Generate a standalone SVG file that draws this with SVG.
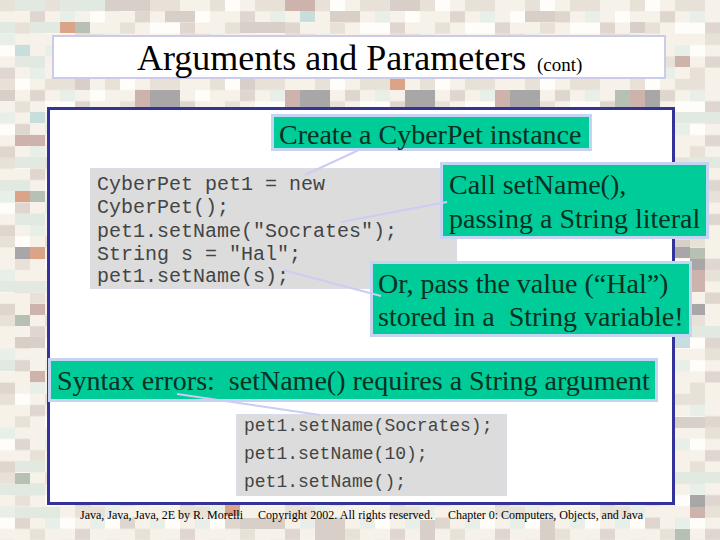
<svg xmlns="http://www.w3.org/2000/svg" width="720" height="540" viewBox="0 0 720 540">
<style>
.s{font-family:"Liberation Serif","Times New Roman",serif;fill:#000}
.n{font-size:28px;fill:#06301f}
.m{font-family:"Liberation Mono","Courier New",monospace;fill:#444}
.g{fill:#00cc99;stroke:#c4d4f2;stroke-width:3}
.c{fill:#dcdcdc;stroke:#dcdce6;stroke-width:1}
.l{fill:none;stroke:#ccccf4;stroke-width:2}
.f{font-size:12px}
</style>
<defs>
<pattern id="tiles" width="105" height="78.750" patternUnits="userSpaceOnUse">
<rect width="105" height="78.750" fill="#f6f2ea"/>
<path fill="#e8e1d8" d="M0 0h15v11.250h-15zM45 0h30v11.250h-30zM15 22.500h15v11.250h-15zM75 33.750h30v11.250h-30zM30 56.250h15v11.250h-15zM60 67.500h15v11.250h-15z"/>
<path fill="#fffdf9" d="M15 0h15v11.250h-15zM90 11.250h15v11.250h-15zM45 22.500h30v11.250h-30zM0 45h15v11.250h-15zM60 45h15v11.250h-15zM90 67.500h15v11.250h-15z"/>
<path fill="#dfd7cf" d="M30 11.250h15v11.250h-15zM75 22.500h15v11.250h-15zM15 45h15v11.250h-15zM75 56.250h15v11.250h-15zM0 67.500h15v11.250h-15z"/>
<path fill="#e8eee8" d="M60 11.250h15v11.250h-15zM0 33.750h15v11.250h-15zM45 45h15v11.250h-15zM90 45h15v11.250h-15zM30 67.500h15v11.250h-15z"/>
</pattern>
</defs>
<g id="background">
<rect width="720" height="540" fill="url(#tiles)"/>
<path fill="#e1e9e1" d="M15 0h30v11h-30zM60 0h45v11h-45zM0 22h15v11h-15zM30 22h30v11h-30zM15 56h30v11h-30zM15 157h30v11h-30zM0 180h30v11h-30zM15 214h30v11h-30zM0 281h45v11h-45zM0 360h15v11h-15zM15 461h30v11h-30zM0 484h45v11h-45zM15 507h45v11h-45zM675 112h45v11h-45zM690 157h30v11h-30zM690 326h30v11h-30zM675 472h45v11h-45z"/>
<path fill="#d8cfc8" d="M105 0h45v11h-45zM165 11h30v11h-30zM240 22h45v11h-45zM330 11h30v11h-30zM390 0h30v11h-30zM525 11h30v11h-30zM630 22h15v11h-15zM75 79h15v11h-15zM240 79h15v11h-15zM0 90h15v11h-15zM15 337h30v11h-30zM675 240h15v11h-15zM675 417h30v11h-30zM240 518h45v11h-45zM315 518h30v22h-30zM420 520h15v20h-15zM540 520h15v20h-15z"/>
<path fill="#a8a6a7" d="M150 90h30v17h-30zM300 90h30v17h-30zM405 90h30v17h-30zM510 90h30v17h-30zM645 90h15v17h-15zM690 304h15v11h-15zM690 495h15v12h-15zM15 247h15v12h-15zM675 247h15v11h-15zM690 259h15v11h-15z"/>
<path fill="#cdb3ac" d="M135 90h15v17h-15zM285 90h15v17h-15zM495 90h15v17h-15zM630 90h15v17h-15zM300 0h15v11h-15zM675 56h15v11h-15zM30 371h15v11h-15zM15 135h30v11h-30zM690 270h15v22h-15zM690 507h15v11h-15zM30 304h15v11h-15zM285 0h15v11h-15z"/>
<path fill="#dba387" d="M60 22h15v11h-15zM390 79h15v11h-15zM15 191h15v11h-15zM30 247h15v12h-15zM225 505h15v11h-15z"/>
<path fill="#c7dedd" d="M15 45h15v11h-15zM675 337h15v11h-15zM30 112h15v11h-15zM300 11h15v11h-15z"/>
<path fill="#b6c1b4" d="M75 22h15v11h-15zM30 191h15v11h-15zM15 315h15v11h-15zM15 473h15v11h-15zM615 90h15v17h-15zM690 248h15v11h-15zM675 529h15v11h-15z"/>
</g>
<g id="title">
<rect x="53" y="36" width="612" height="42" fill="#fff" stroke="#ccccea" stroke-width="2"/>
<text class="s" x="137" y="70" font-size="36">Arguments and Parameters</text>
<text class="s" x="537" y="71" font-size="19">(cont)</text>
</g>
<g id="panel"><rect x="48.500" y="108.500" width="625" height="395" fill="#fff" stroke="#333399" stroke-width="3"/></g>
<g id="code-main">
<rect class="c" x="90.500" y="168.500" width="366" height="120"/>
<text class="m" font-size="20" x="97" y="190">CyberPet pet1 = new</text>
<text class="m" font-size="20" x="97" y="213">CyberPet();</text>
<text class="m" font-size="20" x="97" y="237">pet1.setName("Socrates");</text>
<text class="m" font-size="20" x="97" y="260">String s = "Hal";</text>
<text class="m" font-size="20" x="97" y="282">pet1.setName(s);</text>
</g>
<g id="code-errors">
<rect class="c" x="236.500" y="414.500" width="270" height="81"/>
<text class="m" font-size="18" x="244" y="431">pet1.setName(Socrates);</text>
<text class="m" font-size="18" x="244" y="459">pet1.setName(10);</text>
<text class="m" font-size="18" x="244" y="487">pet1.setName();</text>
</g>
<g id="note-create">
<rect class="g" x="272.500" y="115.500" width="318" height="34"/>
<text class="s n" x="279" y="144">Create a CyberPet instance</text>
</g>
<g id="note-call">
<rect class="g" x="441.500" y="163.500" width="266" height="74"/>
<text class="s n" x="449" y="194">Call setName(),</text>
<text class="s n" x="449" y="228">passing a String literal</text>
</g>
<g id="note-or">
<rect class="g" x="371.500" y="262.500" width="319" height="73"/>
<text class="s n" x="378" y="293">Or, pass the value (“Hal”)</text>
<text class="s n" x="378" y="326" xml:space="preserve">stored in a  String variable!</text>
</g>
<g id="note-syntax">
<rect class="g" x="49.500" y="359.500" width="607" height="41"/>
<text class="s n" x="57" y="390" xml:space="preserve">Syntax errors:  setName() requires a String argument</text>
</g>
<g id="connectors">
<path class="l" d="M361 149L305 175"/>
<path class="l" d="M447 202L341 222"/>
<path class="l" d="M283 270L381 296"/>
<path class="l" d="M177 394L320 415"/>
</g>
<g id="footer">
<text class="s f" x="80" y="519" textLength="163">Java, Java, Java, 2E by R. Morelli</text>
<text class="s f" x="258" y="519" textLength="175">Copyright 2002. All rights reserved.</text>
<text class="s f" x="448" y="519" textLength="195">Chapter 0: Computers, Objects, and Java</text>
</g>
</svg>
